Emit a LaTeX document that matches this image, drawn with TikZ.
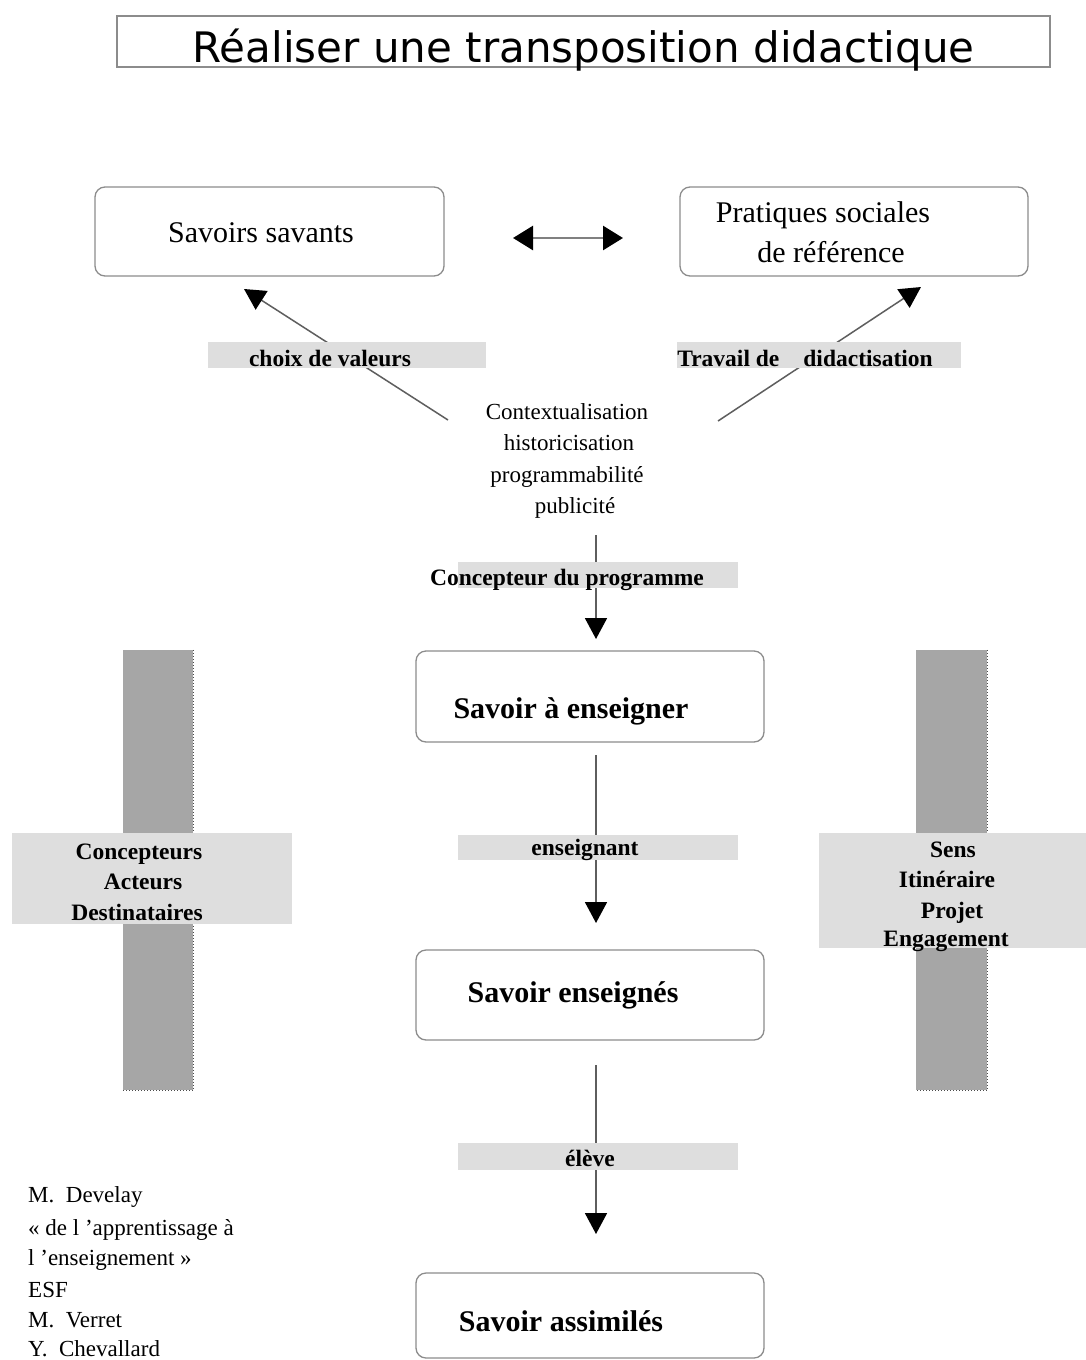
\documentclass[tikz,border=0pt]{standalone}
\usepackage{fontspec}
\setmainfont{Liberation Serif}
\newfontfamily\titlefont{DejaVu Sans}
\usetikzlibrary{arrows.meta}
\definecolor{boxline}{HTML}{8C8C8C}
\definecolor{bandcol}{HTML}{DEDEDE}
\definecolor{barcol}{HTML}{A6A6A6}
\definecolor{conncol}{HTML}{5E5E5E}
\begin{document}
\begin{tikzpicture}[x=1pt,y=-1pt,
  rbox/.style={draw=boxline,line width=1.3pt,rounded corners=10pt,fill=white,inner sep=0pt},
  bandbox/.style={fill=bandcol,draw=none,inner sep=0pt},
  barbox/.style={fill=barcol,draw=none,inner sep=0pt},
  txt/.style={inner sep=0pt,anchor=base,font=\fontsize{23}{27}\selectfont},
  btxt/.style={inner sep=0pt,anchor=base,font=\fontsize{23.5}{27}\selectfont\bfseries},
  boxtxt/.style={inner sep=0pt,anchor=base,font=\fontsize{30}{34}\selectfont},
  bboxtxt/.style={inner sep=0pt,anchor=base,font=\fontsize{30}{34}\selectfont\bfseries},
  conn/.style={draw=conncol,line width=1.8pt,-{Triangle[length=21pt,width=22pt,color=black]}},
  dblconn/.style={draw=gray,line width=2.6pt,{Triangle[length=20pt,width=24pt,color=black]}-{Triangle[length=20pt,width=24pt,color=black]}},
]
\useasboundingbox[fill=white] (0,0) rectangle (1086,1360);

% title
\node[draw=boxline,line width=1.3pt,minimum width=933pt,minimum height=51pt,inner sep=0pt] (titlebox) at (583.5,41.5) {};
\node[inner sep=0pt,anchor=base,font=\titlefont\fontsize{42}{48}\selectfont] (title) at (583.5,62) {Réaliser une transposition didactique};

% side bars
\node[barbox,minimum width=70pt,minimum height=440pt] (lbar) at (158,870) {};
\node[barbox,minimum width=71pt,minimum height=440pt] (rbar) at (951.5,870) {};
\draw[dotted,line width=1pt,black!70] (lbar.north east) -- (lbar.south east) -- (lbar.south west);
\draw[dotted,line width=1pt,black!70] (rbar.north east) -- (rbar.south east) -- (rbar.south west);
\node[bandbox,minimum width=280pt,minimum height=91pt] (lband) at (152,878.5) {};
\node[bandbox,minimum width=267pt,minimum height=115pt] (rband) at (952.5,890.5) {};
\node[btxt] (l1) at (139,859) {Concepteurs};
\node[btxt] (l2) at (143,889) {Acteurs};
\node[btxt] (l3) at (137,920) {Destinataires};
\node[btxt] (r1) at (953,857) {Sens};
\node[btxt] (r2) at (947,887) {Itinéraire};
\node[btxt] (r3) at (952,918) {Projet};
\node[btxt] (r4) at (946,946) {Engagement};

% boxes
\node[rbox,minimum width=349pt,minimum height=89pt] (ss) at (269.5,231.5) {};
\node[boxtxt] (sst) at (261,242) {Savoirs savants};
\node[rbox,minimum width=348pt,minimum height=89pt] (psr) at (854,231.5) {};
\node[boxtxt] (psr1) at (823,222) {Pratiques sociales};
\node[boxtxt] (psr2) at (831,262) {de référence};
\node[rbox,minimum width=348pt,minimum height=91pt] (sae) at (590,696.5) {};
\node[bboxtxt] (saet) at (571,718) {Savoir à enseigner};
\node[rbox,minimum width=348pt,minimum height=90pt] (se) at (590,995) {};
\node[bboxtxt] (set) at (573,1002) {Savoir enseignés};
\node[rbox,minimum width=348pt,minimum height=85pt] (sa) at (590,1315.5) {};
\node[bboxtxt] (sat) at (561,1331) {Savoir assimilés};

% double arrow
\coordinate (dl) at (513,238);
\coordinate (dr) at (623,238);
\draw[dblconn] (dl) -- (dr);

% center text
\node[txt] (c1) at (567,419) {Contextualisation};
\node[txt] (c2) at (569,450) {historicisation};
\node[txt] (c3) at (567,482) {programmabilité};
\node[txt] (c4) at (575,513) {publicité};

% diagonal connectors
\coordinate (dlS) at (448,420);
\coordinate (dlE) at (244,289);
\coordinate (drS) at (718,421);
\coordinate (drE) at (921,287);
\draw[conn,line width=1.5pt] (dlS) -- (dlE);
\draw[conn,line width=1.5pt] (drS) -- (drE);

% vertical connectors
\coordinate (v1s) at (596,535);
\coordinate (v1e) at (596,639);
\coordinate (v2s) at (596,755);
\coordinate (v2e) at (596,923);
\coordinate (v3s) at (596,1065);
\coordinate (v3e) at (596,1234);
\draw[conn] (v1s) -- (v1e);
\draw[conn] (v2s) -- (v2e);
\draw[conn] (v3s) -- (v3e);

% label bands
\node[bandbox,minimum width=278pt,minimum height=26pt] (bch) at (347,355) {};
\node[bandbox,minimum width=284pt,minimum height=26pt] (btr) at (819,355) {};
\node[bandbox,minimum width=280pt,minimum height=26pt] (bco) at (598,575) {};
\node[bandbox,minimum width=280pt,minimum height=25pt] (ben) at (598,847.5) {};
\node[bandbox,minimum width=280pt,minimum height=27pt] (bel) at (598,1156.5) {};
\node[btxt] (lch) at (330,366) {choix de valeurs};
\node[btxt] (ltr) at (805,366) {Travail de\hspace{24pt}didactisation};
\node[btxt] (lco) at (567,585) {Concepteur du programme};
\node[btxt] (len) at (585,855) {enseignant};
\node[btxt] (lel) at (590,1166) {élève};

% reference text
\node[txt,anchor=base west] (b1) at (28,1202) {M.\ \ Develay};
\node[txt,anchor=base west] (b2) at (28,1235) {« de l 'apprentissage à};
\node[txt,anchor=base west] (b3) at (28,1265) {l 'enseignement »};
\node[txt,anchor=base west] (b4) at (28,1297) {ESF};
\node[txt,anchor=base west] (b5) at (28,1327) {M.\ \ Verret};
\node[txt,anchor=base west] (b6) at (28,1356) {Y.\ \ Chevallard};
\end{tikzpicture}
\end{document}
